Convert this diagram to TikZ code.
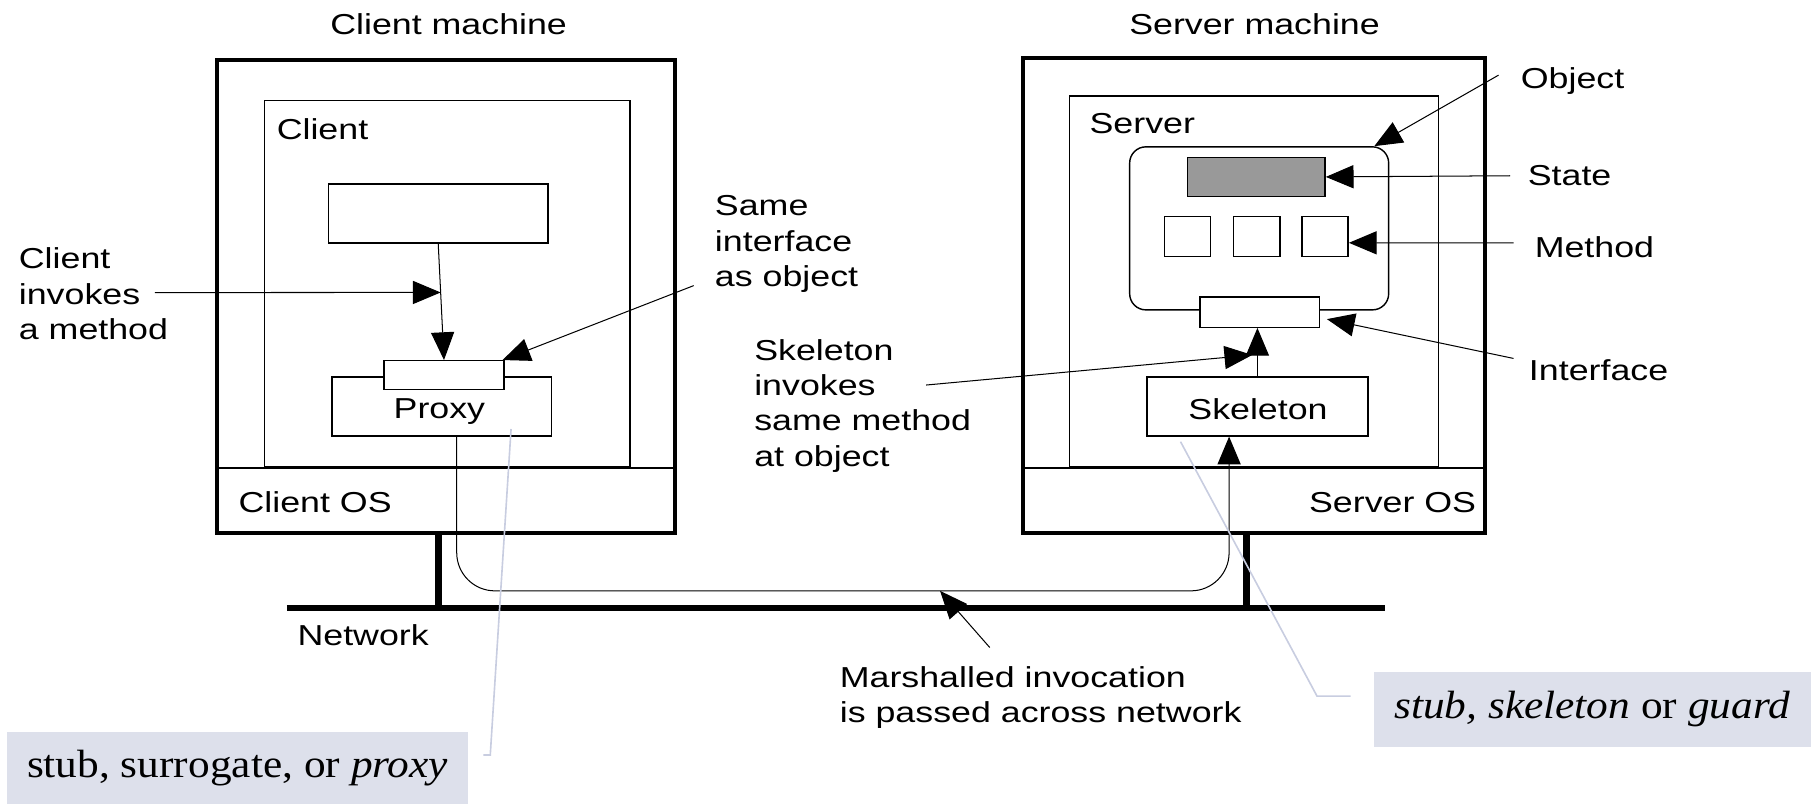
\documentclass[tikz,border=0pt]{standalone}
\usepackage{fontspec}
\setmainfont[FakeStretch=1.24]{Liberation Sans}
\newfontfamily\tagfont[FakeStretch=1.1]{Liberation Serif}
\usepackage{tikz}
\usetikzlibrary{calc,positioning,fit,arrows.meta}
\definecolor{tagbg}{RGB}{221,224,235}
\definecolor{leadcol}{RGB}{200,205,224}
\definecolor{stategray}{RGB}{153,153,153}
\tikzset{
  line/.style    = {-{Triangle[length=4.8mm,width=4mm]}, line width=0.5pt},
  box/.style     = {draw, line width=0.7pt, inner sep=0pt},
  hostbox/.style = {draw, line width=2pt, inner sep=0pt},
  wire/.style    = {line width=3.4pt},
  netline/.style = {line width=3pt},
  lbl/.style     = {inner sep=0pt, anchor=west, align=left},
  tag/.style     = {fill=tagbg, inner sep=0pt},
  tagtext/.style = {inner sep=0pt, font=\tagfont\fontsize{19.4}{22}\selectfont},
  leader/.style  = {draw=leadcol, line width=0.8pt},
}

\begin{document}
\begin{tikzpicture}[x=0.2mm, y=-0.2mm, font=\fontsize{14.2}{17.4}\selectfont]
  \useasboundingbox (0,0) rectangle (1568,695);
  % client machine
  \node[hostbox, fit={(188,52)(584,461)}] (cmach) {};
  \node[box, fit={(229,87)(545,404)}] (cproc) {};
  \draw[box] (cmach.west |- cproc.south) -- (cmach.east |- cproc.south);
  \node at (388,21) (ctitle) {Client machine};
  \node[lbl] at (239,112) (cname) {Client};
  \node[box, fit={(284,159)(474,210)}] (caller) {};
  \node[box, fit={(287,326)(477,377)}] (proxy) {};
  \node[box, fill=white, fit={(332,312)(436,337)}] (pif) {};
  \node at (380,356) (ptext) {Proxy};
  \node[lbl] at (206,434) (cos) {Client OS};

  % server machine
  \node[hostbox, fit={(885,50)(1284,461)}] (smach) {};
  \node[box, fit={(925,83)(1244,404)}] (sproc) {};
  \draw[box] (smach.west |- sproc.south) -- (smach.east |- sproc.south);
  \node at (1085,21) (stitle) {Server machine};
  \node[lbl] at (942,107) (sname) {Server};
  \node[box, rounded corners=2.8mm, fit={(977,127)(1201,268)}] (obj) {};
  \node[box, fill=stategray, fit={(1027,136)(1146,170)}] (state) {};
  \foreach \i/\x in {1/1007,2/1067,3/1126}
    \node[box, fit={(\x,187)(\x+40,222)}] (meth\i) {};
  \node[box, fill=white, fit={(1038,257)(1141,283)}] (sif) {};
  \node[box, fit={(992,326)(1183,377)}] (skel) {};
  \node at (1088,354) (stext) {Skeleton};
  \node[lbl, anchor=east] at (1277,435) (sos) {Server OS};

  % network
  \coordinate (netL) at (248,526);
  \coordinate (netR) at (1198,526);
  \coordinate (stap) at (1078,0);
  \draw[netline] (netL) -- (netR);
  \draw[wire] (caller.south |- cmach.south) -- (caller.south |- netL);
  \draw[wire] (stap |- smach.south) -- (stap |- netL);
  \node[lbl] at (257,549) (netname) {Network};

  % invocation path
  \coordinate (bend) at (0,511);
  \coordinate (pout) at ([xshift=2.6mm]proxy.south);
  \coordinate (sinp) at ([xshift=-4.9mm]skel.south);
  \draw[line, rounded corners=6.6mm] (pout) -- (pout |- bend) -- (sinp |- bend) -- (sinp);

  % client callouts
  \draw[line] (caller.south) -- (pif.north);
  \coordinate (hit) at ($(caller.south)!0.42!(pif.north)$);
  \node[lbl] at (16,254) (cinv) {Client\\invokes\\a method};
  \coordinate (cinvtail) at (134,253);
  \draw[line] (cinvtail) -- (hit);
  \node[lbl] at (618,211) (same) {Same\\interface\\as object};
  \coordinate (sametail) at (600,247);
  \draw[line] (sametail) -- ([xshift=-0.4mm]pif.north east);

  % server callouts
  \node[lbl] at (652,351) (skinv) {Skeleton\\invokes\\same method\\at object};
  \coordinate (skinvtail) at (801,333);
  \coordinate (skhit) at (1083,307);
  \draw[line] (skinvtail) -- (skhit);
  \draw[line] (skel.north) -- (skel.north |- sif.south);
  \node[lbl] at (1315,70) (objname) {Object};
  \coordinate (objtail) at (1296,65);
  \draw[line] (objtail) -- ([xshift=-2.6mm]obj.north east);
  \node[lbl] at (1321,152) (statename) {State};
  \draw[line] ([xshift=-3mm]statename.west) -- (state.east);
  \node[lbl] at (1327,214) (methname) {Method};
  \draw[line] ([xshift=-3.6mm,yshift=0.8mm]methname.west) -- ([yshift=-1.1mm]meth3.east);
  \node[lbl] at (1322,320) (ifname) {Interface};
  \draw[line] ([xshift=-2.6mm,yshift=2mm]ifname.west) -- ([xshift=1.2mm,yshift=-1.2mm]sif.east);

  % marshalling
  \node[lbl] at (726,603) (marsh) {Marshalled invocation\\is passed across network};
  \coordinate (mtail) at (856,560);
  \coordinate (mtip) at (813,511);
  \draw[line] (mtail) -- (mtip);

  % tags
  \node[tag, fit={(6,633)(405,695)}] (ptag) {};
  \node[tagtext] at (ptag.center) (ptagtext) {stub, surrogate, or \textit{proxy}};
  \node[tag, fit={(1188,581)(1566,646)}] (stag) {};
  \node[tagtext] at (stag.center) (stagtext) {\textit{stub, skeleton} or \textit{guard}};
  \draw[leader] (442,371) -- (424,653) -- (418,653);
  \draw[leader] (1021,382) -- (1139,602) -- (1168,602);
\end{tikzpicture}
\end{document}
